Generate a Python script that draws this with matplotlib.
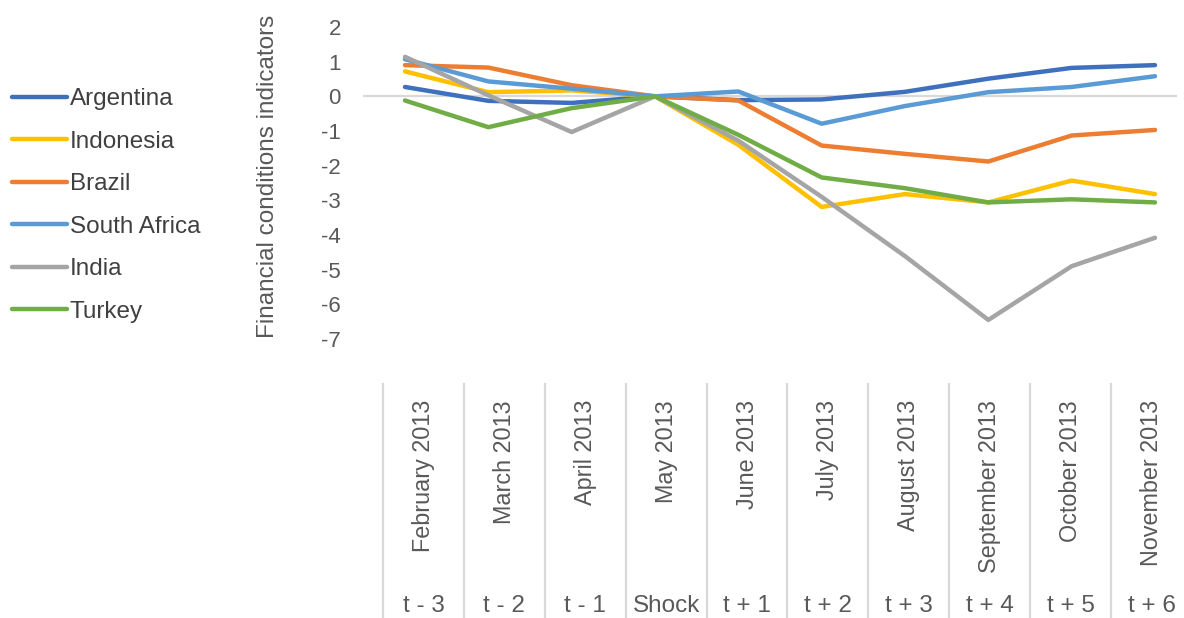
import matplotlib
matplotlib.use('Agg')
import matplotlib.pyplot as plt
from matplotlib import font_manager

plt.rcParams['font.family'] = ['Liberation Sans', 'DejaVu Sans']
plt.rcParams['axes.unicode_minus'] = False

months = ['February 2013', 'March 2013', 'April 2013', 'May 2013', 'June 2013',
          'July 2013', 'August 2013', 'September 2013', 'October 2013', 'November 2013']
periods = ['t - 3', 't - 2', 't - 1', 'Shock', 't + 1', 't + 2', 't + 3', 't + 4', 't + 5', 't + 6']

argentina = [0.27, -0.13, -0.19, 0.0, -0.11, -0.09, 0.13, 0.51, 0.82, 0.90]
indonesia = [0.72, 0.12, 0.17, 0.0, -1.40, -3.19, -2.82, -3.06, -2.43, -2.82]
brazil = [0.90, 0.83, 0.32, 0.0, -0.12, -1.42, -1.66, -1.88, -1.13, -0.97]
south_africa = [1.07, 0.43, 0.22, 0.0, 0.14, -0.79, -0.28, 0.12, 0.27, 0.58]
india = [1.14, 0.03, -1.03, 0.0, -1.28, -2.90, -4.61, -6.45, -4.90, -4.08]
turkey = [-0.12, -0.89, -0.34, 0.0, -1.11, -2.34, -2.65, -3.06, -2.97, -3.06]

countries = ['Argentina', 'Indonesia', 'Brazil', 'South Africa', 'India', 'Turkey']
series = [argentina, indonesia, brazil, south_africa, india, turkey]
colors = ['#3F70BE', '#FFC000', '#ED7D31', '#5B9BD5', '#A5A5A5', '#70AD47']

text_col = '#595959'
grid_col = '#D9D9D9'

# narrow face for the period row, if the system has it
installed = {f.name for f in font_manager.fontManager.ttflist}
narrow = 'Liberation Sans Narrow' if 'Liberation Sans Narrow' in installed else 'Liberation Sans'
narrow_size = 20 if narrow == 'Liberation Sans Narrow' else 17.5

W, H = 1184, 618
fig = plt.figure(figsize=(W / 100, H / 100), dpi=100)

ax = fig.add_axes([363 / W, 1 - 339 / H, (1177 - 363) / W, (339 - 27) / H])
x = list(range(len(months)))
handles = []
for name, vals, col in zip(countries, series, colors):
    ln, = ax.plot(x, vals, color=col, lw=3.2, solid_capstyle='round',
                  solid_joinstyle='round', label=name)
    handles.append(ln)

ax.axhline(0, color=grid_col, lw=1.6, zorder=0)
ax.set_xlim(-0.504, 9.264)
ax.set_ylim(-7, 2)
ax.set_yticks(range(-7, 3))
ax.set_xticks([])
for s in ax.spines.values():
    s.set_visible(False)
ax.tick_params(axis='y', length=0, pad=16, labelsize=16, labelcolor=text_col)

fig.text(268 / W, 1 - 176 / H, 'Financial conditions indicators', rotation=90,
         ha='center', va='center', fontsize=17.5, color=text_col)

# category table under the plot
tab = fig.add_axes([383 / W, 0, 809 / W, 234 / H])
tab.set_xlim(-0.5, 9.5)
tab.set_ylim(0, 234)
tab.axis('off')
for k in range(len(months) + 1):
    tab.plot([k - 0.5, k - 0.5], [0, 234], color=grid_col, lw=1.6, clip_on=False)
for k, (m, p) in enumerate(zip(months, periods)):
    tab.text(k, 218, m, rotation=90, ha='center', va='top', fontsize=16.8, color=text_col)
    tab.text(k, 1, p, ha='center', va='bottom', fontsize=narrow_size, color=text_col,
             family=narrow)

leg = fig.legend(handles=handles, loc='upper left', bbox_to_anchor=(12 / W, 1 - 88 / H),
                 frameon=False, fontsize=17.5, handlelength=2.26, handletextpad=0.12,
                 labelspacing=0.845, borderpad=0, borderaxespad=0)
for t in leg.get_texts():
    t.set_color('#404040')

fig.savefig('out.png', dpi=100)
